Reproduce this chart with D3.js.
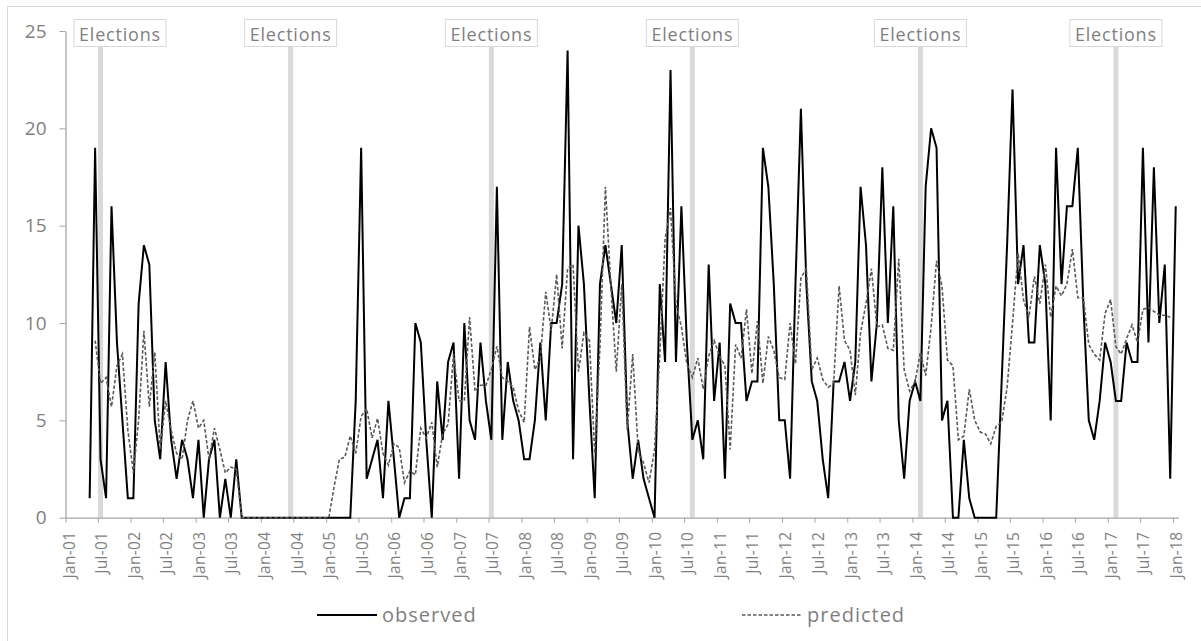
<!DOCTYPE html>
<html>
<head>
<meta charset="utf-8">
<script src="https://d3js.org/d3.v7.min.js"></script>
<style>
  body { margin: 0; background: #fff; }
  text { font-family: "Open Sans", "Noto Sans", sans-serif; fill: #7f7f7f; }
</style>
</head>
<body>
<svg id="chart"></svg>
<script>
// monthly counts, first value is May 2001
const observedStart = "2001-05";
const observed = [
  1, 19, 3, 1, 16,
  9, 5, 1, 1,
  11, 14, 13, 5, 3, 8, 4, 2, 4, 3, 1, 4,
  0, 3, 4, 0, 2, 0, 3,
  0, 0, 0, 0, 0, 0, 0, 0, 0, 0, 0, 0, 0, 0, 0, 0, 0, 0, 0, 0, 0,
  6, 19, 2, 3, 4, 1, 6, 3, 0, 1, 1, 10, 9, 4, 0,
  7, 4, 8, 9, 2, 10, 5, 4, 9, 6, 4, 17,
  4, 8, 6, 5, 3, 3, 5, 9, 5, 10, 10, 12,
  24, 3, 15, 12, 6, 1, 12, 14, 12, 10, 14, 5,
  2, 4, 2, 1, 0, 12, 8, 23, 8, 16, 9, 4,
  5, 3, 13, 6, 9, 2, 11, 10, 10, 6, 7, 7,
  19, 17, 12, 5, 5, 2, 12, 21, 12, 7, 6, 3,
  1, 7, 7, 8, 6, 8, 17, 14, 7, 10, 18, 10,
  16, 5, 2, 6, 7, 6, 17, 20, 19, 5, 6, 0,
  0, 4, 1, 0, 0, 0, 0, 0, 7, 14, 22, 12,
  14, 9, 9, 14, 12, 5, 19, 12, 16, 16, 19, 11,
  5, 4, 6, 9, 8, 6, 6, 9, 8, 8, 19, 9,
  18, 10, 13, 2, 16
];

// model output, first value is June 2001
const predictedStart = "2001-06";
const predicted = [
  9.1, 6.9, 7.2, 5.7, 7.8, 8.4, 4.5, 2.3, 5, 9.6, 5.7, 8.5,
  3.5, 6, 4.5, 3.3, 3, 5, 6, 4.6, 5, 3, 4.6, 3.5, 2.3, 2.6, 2.5,
  0, 0, 0, 0, 0, 0, 0, 0, 0, 0, 0, 0, 0, 0, 0, 0, 0,
  1.6, 3, 3.1, 4.2, 3.3, 5.2, 5.6, 4.1, 5.1, 3.3, 2.7, 3.8,
  3.6, 1.8, 2.4, 2.2, 4.6, 4.1, 4.9, 2.6, 4.3, 4.8, 8.4, 6,
  6, 10.3, 6.5, 6.8, 6.8, 7.6, 8.8, 7.2, 7, 6.7, 5.5, 4.9,
  9.8, 7.6, 8.2, 11.6, 9.6, 12.5, 8.7, 12.8, 13, 7.5, 9.5, 9.1,
  3.3, 8.8, 17, 11.9, 7.5, 12, 4.5, 8.4, 3.5, 2.8, 1.8, 3.5,
  8.4, 14.3, 15.9, 11, 9.8, 7.9, 7.2, 8.2, 6.6, 8.3, 9.1, 8.3,
  7.8, 3.5, 8.9, 8.2, 10.7, 7.4, 10.1, 6.9, 9.3, 8.6, 7.2, 7.1,
  10, 7.9, 12.3, 12.8, 7.6, 8.2, 7.1, 6.7, 6.9, 11.9, 9.1, 8.6,
  6.3, 9.5, 11, 12.8, 9.8, 9.9, 8.7, 8.6, 13.3, 7.6, 6.5, 7,
  8.5, 7.3, 9.8, 13.2, 11.9, 8.1, 7.8, 4, 4.2, 6.6, 5, 4.4,
  4.3, 3.8, 4.7, 4.9, 6.7, 10, 13.6, 11.2, 10.3, 12.4, 11, 13,
  10.3, 11.9, 11.4, 12, 13.8, 11.3, 11.3, 8.9, 8.4, 8.1, 10.5, 11.2,
  8.8, 8.4, 9.2, 9.9, 9, 10.7, 10.8, 10.6, 10.4, 10.4, 10.3
];

const elections = ["2001-07", "2004-06", "2007-07", "2010-08", "2014-02", "2017-02"];
const yTicks = [0, 5, 10, 15, 20, 25];

const width = 1201;
const height = 641;
const plot = {left: 65.5, right: 1178.5, top: 31, bottom: 517.7};

const parseMonth = d3.timeParse("%Y-%m");
const midMonth = d => new Date((+d + +d3.timeMonth.offset(d, 1)) / 2);

function toSeries(start, values) {
  const s = parseMonth(start);
  return values.map((v, i) => ({date: d3.timeMonth.offset(s, i), value: v}));
}

const obsData = toSeries(observedStart, observed);
const predData = toSeries(predictedStart, predicted);

const svg = d3.select("#chart")
  .attr("width", width)
  .attr("height", height);

svg.append("rect")
  .attr("width", width).attr("height", height)
  .attr("fill", "#fff");

svg.append("rect")
  .attr("x", 7.5).attr("y", 6.5)
  .attr("width", width).attr("height", height)
  .attr("fill", "none")
  .attr("stroke", "#d9d9d9");

const x = d3.scaleTime()
  .domain([parseMonth("2001-01"), parseMonth("2018-02")])
  .range([plot.left, plot.right]);

const y = d3.scaleLinear()
  .domain([0, 25])
  .range([plot.bottom, plot.top]);

// election markers
svg.selectAll(".election")
  .data(elections.map(parseMonth))
  .enter().append("rect")
    .attr("class", "election")
    .attr("x", d => x(midMonth(d)) - 2.5)
    .attr("width", 5)
    .attr("y", y(25))
    .attr("height", y(0) - y(25))
    .attr("fill", "#d9d9d9");

// axes
const xTicks = d3.timeMonth.every(6).range(parseMonth("2001-01"), parseMonth("2018-02"));

const xAxis = svg.append("g")
  .attr("transform", `translate(0,${plot.bottom})`)
  .call(d3.axisBottom(x)
    .tickValues(xTicks)
    .tickFormat(d3.timeFormat("%b-%y"))
    .tickSize(5)
    .tickSizeOuter(0));

xAxis.selectAll("text")
  .attr("transform", "rotate(-90)")
  .attr("text-anchor", "end")
  .attr("x", -14)
  .attr("y", 3.3)
  .attr("dy", "0.35em")
  .style("font-size", "15.5px")
  .style("letter-spacing", "0.3px");

const yAxis = svg.append("g")
  .attr("transform", `translate(${plot.left},0)`)
  .call(d3.axisLeft(y)
    .tickValues(yTicks)
    .tickSize(6)
    .tickPadding(13)
    .tickSizeOuter(0));

yAxis.selectAll("text").style("font-size", "19px");

svg.selectAll(".domain, .tick line").attr("stroke", "#a6a6a6");
svg.selectAll(".tick text").attr("fill", "#7f7f7f");
svg.selectAll(".domain").attr("stroke-width", 1.3);

// series
const line = d3.line()
  .x(d => x(midMonth(d.date)))
  .y(d => y(d.value));

svg.append("path")
  .datum(obsData)
  .attr("fill", "none")
  .attr("stroke", "#000")
  .attr("stroke-width", 2)
  .attr("stroke-linejoin", "miter")
  .attr("d", line);

svg.append("path")
  .datum(predData)
  .attr("fill", "none")
  .attr("stroke", "#595959")
  .attr("stroke-width", 1.6)
  .attr("stroke-dasharray", "3.5,2")
  .attr("d", line);

// election labels
const labels = svg.selectAll(".elabel")
  .data(elections.map(parseMonth))
  .enter().append("g")
    .attr("class", "elabel")
    .attr("transform", d => `translate(${Math.max(x(midMonth(d)), plot.left + 54.5)},0)`);

labels.append("rect")
  .attr("x", -46).attr("y", 19.5)
  .attr("width", 92).attr("height", 27)
  .attr("fill", "#fff")
  .attr("stroke", "#d9d9d9");

labels.append("text")
  .attr("text-anchor", "middle")
  .attr("y", 40.5)
  .style("font-size", "18px")
  .style("letter-spacing", "0.8px")
  .text("Elections");

// legend
const legendItems = [
  {name: "observed", x: 317, dash: null, color: "#000", w: 2},
  {name: "predicted", x: 742, dash: "3.5,2", color: "#595959", w: 1.6}
];

const legend = svg.selectAll(".legend")
  .data(legendItems)
  .enter().append("g")
    .attr("class", "legend")
    .attr("transform", d => `translate(${d.x},615)`);

legend.append("line")
  .attr("x1", 0).attr("x2", 60)
  .attr("stroke", d => d.color)
  .attr("stroke-width", d => d.w)
  .attr("stroke-dasharray", d => d.dash);

legend.append("text")
  .attr("x", 65)
  .attr("dy", "0.35em")
  .style("font-size", "20px")
  .style("letter-spacing", "1px")
  .text(d => d.name);
</script>
</body>
</html>
